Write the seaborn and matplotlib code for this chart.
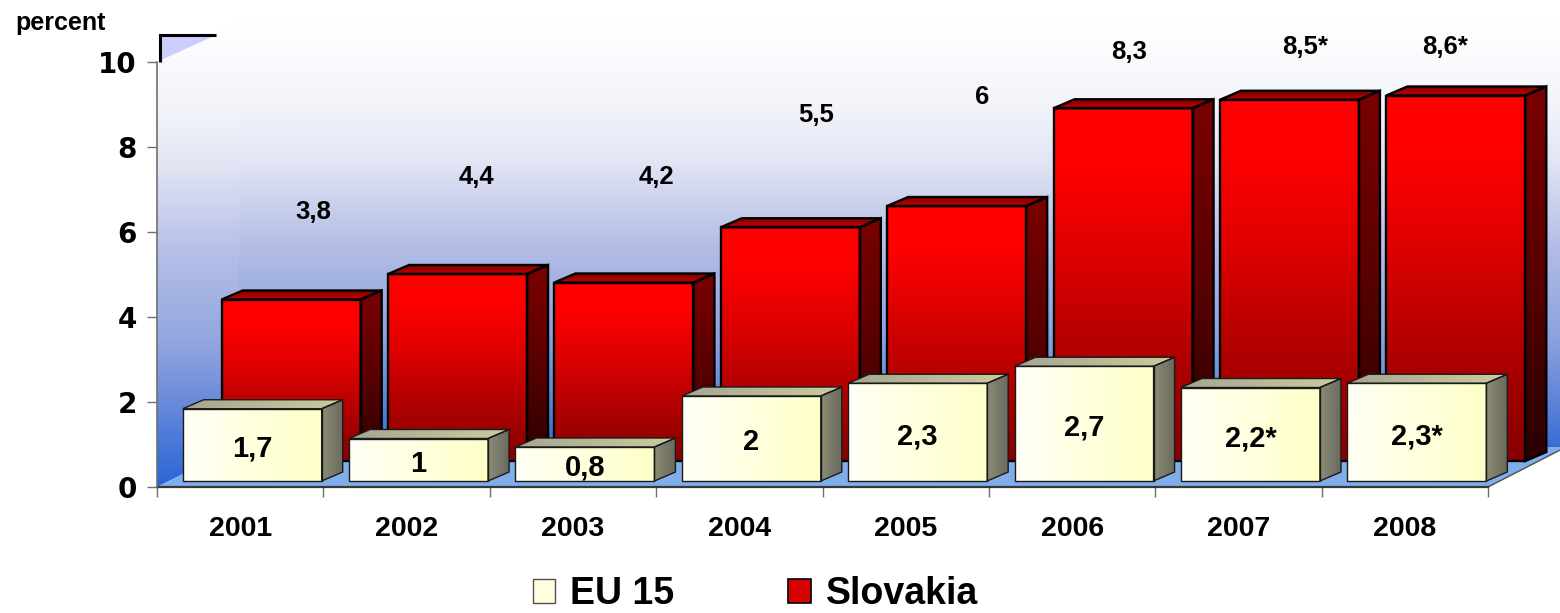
import numpy as np
import matplotlib
matplotlib.use("Agg")
import matplotlib.pyplot as plt
import seaborn as sns
from matplotlib.patches import Polygon, Patch
from matplotlib.transforms import ScaledTranslation
from matplotlib.colors import LinearSegmentedColormap

# ---------------- data ----------------
years = ["2001", "2002", "2003", "2004", "2005", "2006", "2007", "2008"]
eu15 = [1.7, 1.0, 0.8, 2.0, 2.3, 2.7, 2.2, 2.3]
slovakia = [3.8, 4.4, 4.2, 5.5, 6.0, 8.3, 8.5, 8.6]
eu15_labels = ["1,7", "1", "0,8", "2", "2,3", "2,7", "2,2*", "2,3*"]
slovakia_labels = ["3,8", "4,4", "4,2", "5,5", "6", "8,3", "8,5*", "8,6*"]
yticks = [0, 2, 4, 6, 8, 10]
series_names = ["EU 15", "Slovakia"]

# ---------------- layout ----------------
sk_label_dx = [0.44, 0.42, 0.50, 0.46, 0.46, 0.34, 0.40, 0.24]
sk_label_y = [6.47, 7.29, 7.29, 8.75, 9.18, 10.24, 10.35, 10.35]

W, H, DPI = 1560, 613, 100
AX_L, AX_R, AX_T, AX_B = 157, 1488, 62, 487
PX_X = (AX_R - AX_L) / 8.0      # px per category
PX_Y = (AX_B - AX_T) / 10.0     # px per unit
BAR_W = 139 / PX_X
DEPTH_X, DEPTH_Y = 21, 9        # bar depth in px
EU_SHIFT = (12, 6)
SK_SHIFT = (51, 26)

sns.set_theme(style="ticks")
plt.rcParams['font.family'] = ['Liberation Sans', 'DejaVu Sans']
plt.rcParams['text.color'] = 'black'
plt.rcParams['xtick.labelcolor'] = 'black'
plt.rcParams['ytick.labelcolor'] = 'black'

fig = plt.figure(figsize=(W / DPI, H / DPI), dpi=DPI)
fig.patch.set_facecolor('white')

# ---------------- background (walls / floor) in pixel coords ----------------
bg = fig.add_axes([0, 0, 1, 1], zorder=0)
bg.axis('off')
wall_cmap = LinearSegmentedColormap.from_list('wall', [
    (0.0, '#ffffff'), (0.17, '#f4f5fb'), (0.30, '#e2e5f4'), (0.49, '#b2bce6'),
    (0.69, '#8aa0de'), (0.81, '#6284d8'), (0.91, '#3a6ed6'), (1.0, '#1a5ad0')])
wall_poly = Polygon([(157, 62), (239, 21), (1560, 21), (1560, 446), (239, 446), (157, 487)],
                    closed=True, facecolor='none', edgecolor='none')
bg.add_patch(wall_poly)
im = bg.imshow(np.linspace(0, 1, 512).reshape(-1, 1), cmap=wall_cmap,
               extent=[157, 1560, 487, 21], aspect='auto', origin='upper', zorder=0)
im.set_clip_path(wall_poly)
# left wall slightly lighter
bg.add_patch(Polygon([(157, 62), (239, 21), (239, 446), (157, 487)], closed=True,
                     facecolor='white', alpha=0.07, edgecolor='none', zorder=1))
# floor
bg.add_patch(Polygon([(157, 487), (1488, 487), (1568, 446), (239, 446)], closed=True,
                     facecolor='#80aeea', edgecolor='none', zorder=2))
bg.plot([1488, 1568], [487, 446], color='#505050', lw=1, zorder=3)
bg.plot([239, 1560], [446, 446], color='#3a5fa8', lw=0.6, zorder=3)
# top-left corner of the side wall
bg.add_patch(Polygon([(159, 61), (159, 35), (216, 35)], closed=True,
                     facecolor='#ccccff', edgecolor='none', zorder=3))
bg.plot([160, 160, 216], [62, 35, 35], color='black', lw=2.2, zorder=4,
        solid_joinstyle='miter', solid_capstyle='butt')
bg.set_xlim(0, W)
bg.set_ylim(H, 0)

# ---------------- main axes ----------------
ax = fig.add_axes([AX_L / W, 1 - AX_B / H, (AX_R - AX_L) / W, (AX_B - AX_T) / H], zorder=1)
ax.patch.set_visible(False)


def shifted(dxp, dyp):
    return ax.transData + ScaledTranslation(dxp / DPI, dyp / DPI, fig.dpi_scale_trans)


ddx = DEPTH_X / PX_X
ddy = DEPTH_Y / PX_Y


def grad_fill(verts, trans, cmap, data, extent, z, edge, lw):
    poly = Polygon(verts, closed=True, transform=trans, facecolor='none',
                   edgecolor=edge, lw=lw, zorder=z + 0.2, clip_on=False,
                   joinstyle='miter')
    ax.add_patch(poly)
    img = ax.imshow(data, cmap=cmap, vmin=0, vmax=1, extent=extent,
                    origin='upper', aspect='auto', transform=trans, zorder=z + 0.1,
                    interpolation='bilinear')
    img.set_clip_path(poly)
    img.set_clip_box(fig.bbox)
    return poly


red_front = LinearSegmentedColormap.from_list(
    'rf', [(0.0, '#860000'), (0.3, '#b00000'), (0.6, '#e00000'), (0.85, '#ff0000'), (1.0, '#ff0000')])
red_side = LinearSegmentedColormap.from_list('rs', ['#7a0000', '#5a0000', '#2a0000'])
red_top = LinearSegmentedColormap.from_list('rt', ['#760000', '#c80000'])
eu_front = LinearSegmentedColormap.from_list('ef', ['#fffff6', '#ffffc8'])
eu_top = LinearSegmentedColormap.from_list('et', ['#a6a690', '#cbcb9e'])
eu_side = LinearSegmentedColormap.from_list('es', ['#8c8c76', '#6a6a5e'])
hgrad = np.linspace(0, 1, 256).reshape(1, -1)
vgrad_down = np.linspace(0, 1, 256).reshape(-1, 1)
vgrad_up = np.linspace(1, 0, 256).reshape(-1, 1)

# --- Slovakia (back row) ---
n0 = len(ax.patches)
sns.barplot(x=years, y=slovakia, ax=ax, color='#d00000', width=BAR_W, saturation=1,
            errorbar=None, edgecolor='black', linewidth=1.7, zorder=2)
sk_bars = ax.patches[n0:]
t_sk = shifted(*SK_SHIFT)
for p in sk_bars:
    x0, w, h = p.get_x(), p.get_width(), p.get_height()
    x1 = x0 + w
    p.set_transform(t_sk)
    p.set_clip_on(False)
    p.set_facecolor('none')
    p.set_zorder(2.2)
    p.set_joinstyle('miter')
    img = ax.imshow(vgrad_up, cmap=red_front, vmin=0, vmax=1, extent=[x0, x1, 0, h],
                    origin='upper', aspect='auto', transform=t_sk, zorder=2.1,
                    interpolation='bilinear')
    img.set_clip_path(p)
    # side face
    grad_fill([(x1, 0), (x1 + ddx, ddy), (x1 + ddx, h + ddy), (x1, h)], t_sk, red_side,
              vgrad_down, [x1, x1 + ddx, 0, h + ddy], 2, 'black', 1.7)
    # top face
    grad_fill([(x0, h), (x1, h), (x1 + ddx, h + ddy), (x0 + ddx, h + ddy)], t_sk, red_top,
              vgrad_down, [x0, x1 + ddx, h, h + ddy], 2, 'black', 1.7)

# --- EU 15 (front row) ---
n0 = len(ax.patches)
sns.barplot(x=years, y=eu15, ax=ax, color='#ffffe0', width=BAR_W, saturation=1,
            errorbar=None, edgecolor='#1a1a1a', linewidth=1.0, zorder=3)
eu_bars = ax.patches[n0:]
t_eu = shifted(*EU_SHIFT)
for p in eu_bars:
    x0, w, h = p.get_x(), p.get_width(), p.get_height()
    x1 = x0 + w
    p.set_transform(t_eu)
    p.set_clip_on(False)
    p.set_facecolor('none')
    p.set_zorder(3.2)
    img = ax.imshow(hgrad, cmap=eu_front, extent=[x0, x1, 0, h], origin='upper',
                    aspect='auto', transform=t_eu, zorder=3.1, interpolation='bilinear')
    img.set_clip_path(p)
    grad_fill([(x1, 0), (x1 + ddx, ddy), (x1 + ddx, h + ddy), (x1, h)], t_eu, eu_side,
              hgrad, [x1, x1 + ddx, 0, h + ddy], 3, '#1a1a1a', 1.0)
    grad_fill([(x0, h), (x1, h), (x1 + ddx, h + ddy), (x0 + ddx, h + ddy)], t_eu, eu_top,
              hgrad, [x0, x1 + ddx, h, h + ddy], 3, '#1a1a1a', 1.0)

# --- value labels ---
for i, (v, lab) in enumerate(zip(eu15, eu15_labels)):
    ax.text(i + EU_SHIFT[0] / PX_X, EU_SHIFT[1] / PX_Y + v / 2 - 4 / PX_Y, lab,
            ha='center', va='center', fontsize=21, fontweight='bold', color='black',
            zorder=5, clip_on=False)
for i, lab in enumerate(slovakia_labels):
    ax.text(i + sk_label_dx[i], sk_label_y[i], lab, ha='center', va='center',
            fontsize=18.5, fontweight='bold', color='black', zorder=5, clip_on=False)

# --- axes styling ---
ax.set_xlim(-0.5, 7.5)
ax.set_ylim(0, 10)
ax.set_xlabel('')
ax.set_ylabel('')
ax.set_yticks(yticks)
ax.set_yticklabels([str(t) for t in yticks], fontfamily='DejaVu Sans',
                   fontweight='bold', fontsize=20, color='black')
ax.set_xticks(range(len(years)))
ax.set_xticklabels(years, fontsize=20.5, fontweight='bold', color='black')
ax.set_xticks(np.arange(-0.5, len(years), 1.0), minor=True)
ax.tick_params(axis='y', which='major', left=True, length=7.5, width=1,
               color='#707070', pad=7)
ax.tick_params(axis='x', which='major', bottom=True, length=0, pad=21)
ax.tick_params(axis='x', which='minor', bottom=True, length=7.5, width=1, color='#707070')
for s in ['top', 'right']:
    ax.spines[s].set_visible(False)
ax.spines['left'].set_color('#707070')
ax.spines['left'].set_linewidth(1.2)
ax.spines['bottom'].set_color('#383838')
ax.spines['bottom'].set_linewidth(1.6)
ax.spines['left'].set_zorder(6)

fig.text(15 / W, 1 - 30 / H, 'percent', fontsize=18, fontweight='bold',
         ha='left', va='baseline', color='black')

handles = [Patch(facecolor='#ffffe0', edgecolor='#505050', lw=1.0),
           Patch(facecolor='#d80000', edgecolor='black', lw=1.2)]
leg = ax.legend(handles, series_names, loc='center', bbox_to_anchor=(0.4843, 0.031),
                bbox_transform=fig.transFigure, ncol=2, frameon=False,
                prop={'weight': 'bold', 'size': 27}, handlelength=0.59, handleheight=0.59,
                handletextpad=0.4, columnspacing=3.04, borderaxespad=0, borderpad=0)
for t in leg.get_texts():
    t.set_color('black')

fig.savefig('out.png', dpi=DPI)
